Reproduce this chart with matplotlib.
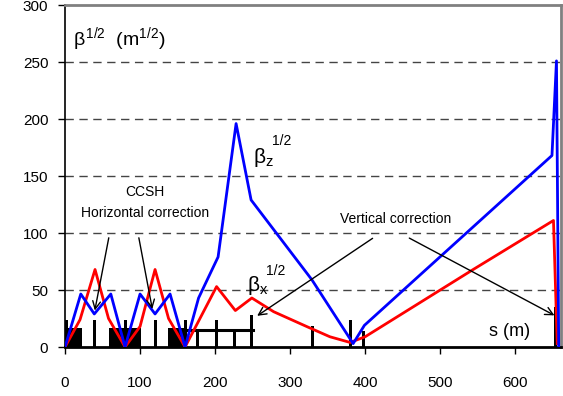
import matplotlib
matplotlib.use('Agg')
import matplotlib.pyplot as plt

plt.rcParams['font.family'] = ['Liberation Sans', 'DejaVu Sans']
plt.rcParams['mathtext.fontset'] = 'custom'
plt.rcParams['mathtext.rm'] = 'Liberation Sans'
plt.rcParams['mathtext.it'] = 'Liberation Sans'

# beta function sqrt along s (m)
s_z = [0, 21, 39, 61, 80, 100, 120, 140, 160, 178, 204, 228, 248, 329, 384, 399, 649, 655, 658]
beta_z = [0, 46.5, 29, 46.5, 0, 46.5, 29, 46.5, 0, 43, 79, 196, 129, 59, 3, 19, 168, 251, 0]

s_x = [0, 20, 40, 58, 80, 100, 120, 138, 160, 202, 227, 249, 278, 322, 353, 380, 400, 544, 651, 656]
beta_x = [0, 24, 68, 25, 0, 18, 68, 25, 0, 53, 32, 43, 31, 18, 9, 4, 9, 68, 111, 3]

# lattice elements (start, width, height)
block_start = [1, 59, 137]
block_width = [21, 42, 23]
block_height = [17, 17, 17]
thin_s = [2, 39, 80, 120, 160, 176, 202, 226, 249, 330, 380, 398, 654]
thin_h = [24, 24, 24, 24, 24, 15, 24, 15, 28, 18, 24, 14, 35]
frame_s = [160, 250]
frame_h = 15

xticks = [0, 100, 200, 300, 400, 500, 600]
yticks = [0, 50, 100, 150, 200, 250, 300]

fig = plt.figure(figsize=(5.63, 3.96), dpi=100)
ax = fig.add_axes([0.1155, 0.1237, 0.8809, 0.8636])

# elements
ax.bar(block_start, block_height, width=block_width, align='edge', color='black', zorder=2)
ax.bar(thin_s, thin_h, width=4, color='black', zorder=2)
ax.plot(frame_s, [frame_h, frame_h], color='black', lw=2.2, zorder=2)

for yv in yticks[1:-1]:
    ax.axhline(yv, color='#444444', lw=1, ls=(0, (6, 4)), zorder=1)

ax.plot(s_x, beta_x, color='red', lw=2, zorder=3)
ax.plot(s_z, beta_z, color='blue', lw=2, zorder=4)

arrow = dict(arrowstyle='->', color='black', lw=1, mutation_scale=14)
ax.annotate('', xy=(39, 29.6), xytext=(59, 98.2), arrowprops=arrow, zorder=5)
ax.annotate('', xy=(117, 31), xytext=(97.7, 98.2), arrowprops=arrow, zorder=5)
ax.annotate('', xy=(253, 26), xytext=(413, 96.7), arrowprops=arrow, zorder=5)
ax.annotate('', xy=(655.6, 26.6), xytext=(455.6, 96.7), arrowprops=arrow, zorder=5)

ax.text(107, 136, 'CCSH', fontsize=10, ha='center', va='center')
ax.text(107, 118, 'Horizontal correction', fontsize=10, ha='center', va='center')
ax.text(440, 112, 'Vertical correction', fontsize=10, ha='center', va='center')
ax.text(592, 14, 's (m)', fontsize=13, ha='center', va='center')
ax.text(10, 270, r'$\beta^{1/2}$  (m$^{1/2}$)', fontsize=14, ha='left', va='center')
ax.text(250, 166, r'$\beta_{z}$', fontsize=15, ha='left', va='center')
ax.text(276, 181, '1/2', fontsize=10, ha='left', va='center')
ax.text(243, 54, r'$\beta_{x}$', fontsize=15, ha='left', va='center')
ax.text(268, 67, '1/2', fontsize=10, ha='left', va='center')

ax.set_xlim(0, 661)
ax.set_ylim(0, 300)
ax.set_xticks(xticks)
ax.set_yticks(yticks)
ax.tick_params(axis='x', direction='out', length=5, width=1, pad=16, labelsize=11)
ax.tick_params(axis='y', direction='out', length=5, width=1, pad=7, labelsize=11)

ax.spines['left'].set_linewidth(1.2)
ax.spines['bottom'].set_linewidth(2)
for side in ['top', 'right']:
    ax.spines[side].set_color('#808080')
    ax.spines[side].set_linewidth(2)

fig.savefig('out.png', dpi=100)
